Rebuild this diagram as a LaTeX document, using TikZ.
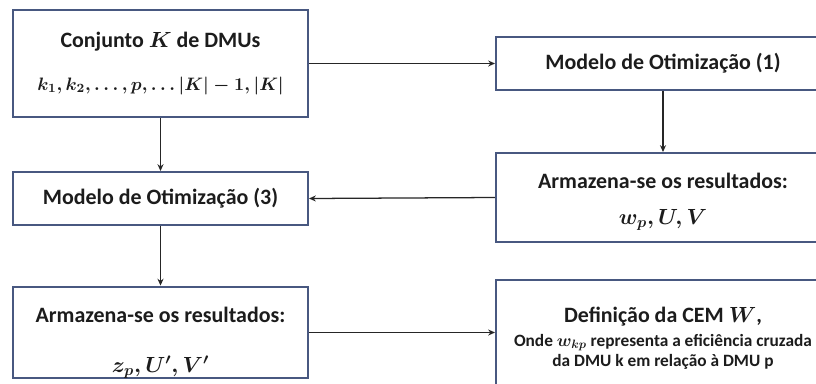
\documentclass[tikz,border=0pt]{standalone}
\usepackage{fix-cm}
\usepackage{amsmath}
\usepackage{fontspec}
\setmainfont{Carlito}
\usepackage{tikz}
\usetikzlibrary{arrows.meta, positioning}
\definecolor{boxblue}{RGB}{72, 88, 128}
\definecolor{inkgray}{RGB}{28, 28, 28}
\newcommand{\notesize}{\fontsize{12.3}{13.4}\selectfont}
\newcommand{\mathsize}{\fontsize{12.8}{17}\selectfont}

\begin{document}
\begin{tikzpicture}[
    x=0.025cm, y=-0.025cm,
    font=\fontsize{15.6}{18}\selectfont\bfseries\boldmath,
    >={Stealth[length=1.7mm, width=1.5mm]},
    box/.style={draw=boxblue, line width=1.4pt, fill=white, inner sep=0pt, align=center, text=inkgray},
    flow/.style={->, black!85, line width=0.9pt},
]

% --- Page frame (right column runs off the edge) ---
\clip (0,0) rectangle (816,383);
\fill[white] (0,0) rectangle (816,383);

% --- Left column ---
\node[box, minimum width=7.375cm, minimum height=2.675cm] (dmus) at (160.5,63.5)
    {Conjunto $K$ de DMUs\\[12pt]{\mathsize$k_1, k_2, \ldots, p, \ldots |K|-1, |K|$}};
\node[box, minimum width=7.375cm, minimum height=1.325cm] (modelo3) at (160.5,198.5)
    {Modelo de Otimização (3)};
\node[box, minimum width=7.375cm, minimum height=2.275cm] (armaz3) at (160.5,332.5)
    {\mbox{}\\[7.4pt]Armazena-se os resultados:\\[17.5pt]$z_p, U', V'$};

% --- Right column ---
\node[box, minimum width=8.35cm, minimum height=1.325cm] (modelo1) at (663,63.5)
    {Modelo de Otimização (1)};
\node[box, minimum width=8.35cm, minimum height=2.225cm] (armaz1) at (663,197.5)
    {\mbox{}\\[-1pt]Armazena-se os resultados:\\[8pt]$w_p, U, V$};
\node[box, minimum width=8.35cm, minimum height=3cm] (cem) at (663,340)
    {Definição da CEM $W$,\\[3pt]
     {\notesize\renewcommand{\arraystretch}{1.1}\begin{tabular}{@{}c@{}}Onde $w_{kp}$ representa a eficiência cruzada\\
     da DMU k em relação à DMU p\end{tabular}}};

% --- Flow between the boxes ---
\draw[flow] (dmus.east) -- (modelo1.west);
\draw[flow] (dmus.south) -- (modelo3.north);
\draw[flow] (modelo1.south) -- (armaz1.north);
\draw[flow] (armaz1.west) -- (modelo3.east);
\draw[flow] (modelo3.south) -- (armaz3.north);
\draw[flow] (armaz3.east) -- (armaz3.east -| cem.west);

\end{tikzpicture}
\end{document}
